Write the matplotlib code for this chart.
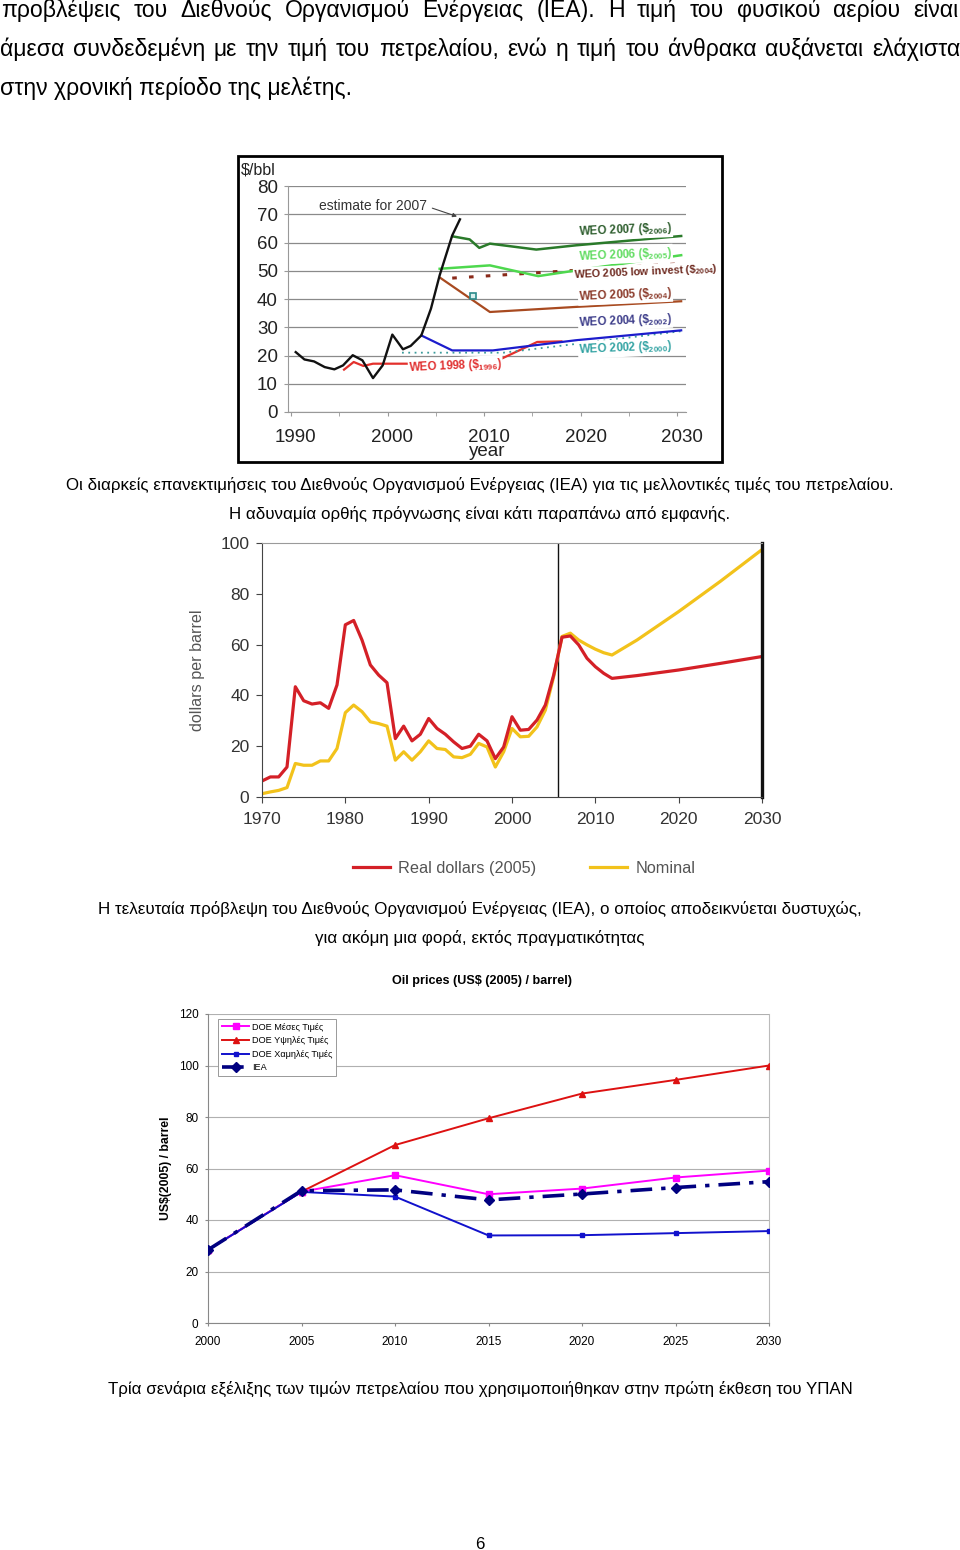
import matplotlib
matplotlib.use("Agg")
import matplotlib.pyplot as plt
from matplotlib import font_manager
from matplotlib.patches import Rectangle
from matplotlib.transforms import ScaledTranslation

W, H = 960, 1550

names = {f.name for f in font_manager.fontManager.ttflist}
NARROW = "Liberation Sans Narrow" if "Liberation Sans Narrow" in names else "Liberation Sans"

plt.rcParams["font.family"] = ["Liberation Sans", "DejaVu Sans"]
plt.rcParams["mathtext.fontset"] = "custom"
plt.rcParams["mathtext.default"] = "regular"

## DATA

PARA = [
    "προβλέψεις του Διεθνούς Οργανισμού Ενέργειας (ΙΕΑ). Η τιμή του φυσικού αερίου είναι",
    "άμεσα συνδεδεμένη με την τιμή του πετρελαίου, ενώ η τιμή του άνθρακα αυξάνεται ελάχιστα",
    "στην χρονική περίοδο της μελέτης.",
]
CAPTION_1 = [
    "Οι διαρκείς επανεκτιμήσεις του Διεθνούς Οργανισμού Ενέργειας (ΙΕΑ) για τις μελλοντικές τιμές του πετρελαίου.",
    "Η αδυναμία ορθής πρόγνωσης είναι κάτι παραπάνω από εμφανής.",
]
CAPTION_2 = [
    "Η τελευταία πρόβλεψη του Διεθνούς Οργανισμού Ενέργειας (ΙΕΑ), ο οποίος αποδεικνύεται δυστυχώς,",
    "για ακόμη μια φορά, εκτός πραγματικότητας",
]
CAPTION_3 = "Τρία σενάρια εξέλιξης των τιμών πετρελαίου που χρησιμοποιήθηκαν στην πρώτη έκθεση του ΥΠΑΝ"
PAGE_NO = "6"

# chart 1: WEO forecasts ($/bbl)
hist_years = [1990.5, 1991.4, 1992.4, 1993.5, 1994.5, 1995.4, 1996.4, 1997.4, 1998.5,
              1999.5, 2000.5, 2001.6, 2002.4, 2003.5, 2004.5, 2005.4, 2006.7, 2007.5]
hist_price = [21.2, 18.6, 17.9, 15.9, 15.1, 16.5, 20.1, 18.3, 12.0,
              16.5, 27.4, 22.2, 23.4, 27.1, 36.6, 48.4, 62.5, 68.2]
weo1998_years = [1995.5, 1996.5, 1997.5, 1998.5, 2010.7, 2015.5, 2018.0]
weo1998_price = [15.0, 17.7, 16.3, 17.1, 17.1, 24.8, 25.0]
weo2002_years = [2001.5, 2012.0, 2020.0, 2030.4]
weo2002_price = [21.0, 21.0, 24.3, 28.6]
weo2004_years = [2003.5, 2006.7, 2010.9, 2019.5, 2030.4]
weo2004_price = [27.1, 21.8, 21.8, 25.4, 28.9]
weo2005_years = [2005.5, 2010.6, 2019.5, 2030.4]
weo2005_price = [47.4, 35.4, 37.2, 39.2]
weo2005low_years = [2006.7, 2030.4]
weo2005low_price = [47.4, 52.5]
weo2006_years = [2005.4, 2010.6, 2015.6, 2019.5, 2030.4]
weo2006_price = [50.7, 51.9, 48.1, 50.1, 55.5]
weo2007_years = [2006.7, 2008.5, 2009.5, 2010.6, 2015.4, 2019.5, 2030.4]
weo2007_price = [62.2, 61.1, 58.1, 59.6, 57.5, 59.0, 62.3]
marker_point = (2008.9, 41.0)

# chart 2: real vs nominal (dollars per barrel)
c2_years = list(range(1970, 2013)) + [2015, 2020, 2025, 2030]
c2_real = [6.3, 7.9, 7.9, 11.8, 43.4, 37.9, 36.6, 37.1, 34.9, 44.1,
           67.8, 69.5, 61.8, 52.0, 48.0, 45.0, 23.0, 27.9, 22.1, 24.7,
           30.9, 27.0, 24.7, 21.7, 19.1, 20.0, 24.7, 22.1, 15.1, 19.7,
           31.6, 26.3, 26.6, 30.3, 36.2, 48.0, 62.9, 63.4, 59.9, 54.6,
           51.3, 48.7, 46.7, 47.8, 50.0, 52.6, 55.3]
c2_nominal = [1.3, 2.0, 2.6, 3.7, 13.2, 12.5, 12.5, 14.2, 14.2, 19.1,
              33.2, 36.2, 33.6, 29.6, 28.9, 27.9, 14.5, 17.8, 14.5, 17.8,
              22.1, 19.1, 18.7, 15.8, 15.5, 16.8, 21.1, 19.7, 11.8, 17.8,
              27.0, 23.7, 23.9, 27.6, 34.2, 47.4, 63.2, 64.5, 61.8, 59.9,
              58.2, 56.8, 55.9, 61.8, 73.0, 84.9, 97.4]
c2_divider = 2005.5

# chart 3: DOE / IEA scenarios
c3_years = [2000, 2005, 2010, 2015, 2020, 2025, 2030]
doe_mid = [28.4, 51.0, 57.4, 50.0, 52.2, 56.5, 59.2]
doe_high = [28.4, 51.0, 69.1, 79.5, 89.1, 94.4, 100.0]
doe_low = [28.4, 50.9, 49.1, 34.0, 34.1, 34.9, 35.7]
iea = [28.4, 51.4, 51.7, 47.8, 50.1, 52.6, 54.9]
c3_labels = ["DOE Μέσες Τιμές", "DOE Υψηλές Τιμές", "DOE Χαμηλές Τιμές", "IEA"]

## HELPERS

fig = plt.figure(figsize=(W / 100, H / 100), dpi=100)
renderer = fig.canvas.get_renderer()

def fx(x):
    return x / W

def fy(y):
    return 1 - y / H

def axes_px(left, top, right, bottom):
    return fig.add_axes([fx(left), fy(bottom), (right - left) / W, (bottom - top) / H])

def fit_size(s, width, family, weight="normal"):
    t = fig.text(0, 0, s, fontsize=10, family=family, weight=weight)
    w = t.get_window_extent(renderer).width
    t.remove()
    return 10 * width / w

def justify(line, y, x0, x1, size):
    words = line.split()
    texts = [fig.text(0, fy(y), w, fontsize=size, va="baseline") for w in words]
    widths = [t.get_window_extent(renderer).width for t in texts]
    gap = (x1 - x0 - sum(widths)) / (len(words) - 1)
    x = x0
    for t, w in zip(texts, widths):
        t.set_x(fx(x))
        x += w + gap

## TEXT

psize = fit_size(PARA[2], 354, ["Liberation Sans", "DejaVu Sans"])
justify(PARA[0], 17, 1, 958, psize)
justify(PARA[1], 56, 0, 960, psize)
fig.text(0, fy(95), PARA[2], fontsize=psize, va="baseline")

csize = fit_size(CAPTION_1[0], 826, NARROW)
fig.text(fx(480), fy(490), CAPTION_1[0], fontsize=csize, family=NARROW, ha="center", va="baseline")
fig.text(fx(480), fy(519), CAPTION_1[1], fontsize=csize, family=NARROW, ha="center", va="baseline")

csize2 = fit_size(CAPTION_2[0], 761, NARROW)
fig.text(fx(480), fy(914), CAPTION_2[0], fontsize=csize2, family=NARROW, ha="center", va="baseline")
fig.text(fx(480), fy(943), CAPTION_2[1], fontsize=csize2, family=NARROW, ha="center", va="baseline")

csize3 = fit_size(CAPTION_3, 745, NARROW)
fig.text(fx(480), fy(1394), CAPTION_3, fontsize=csize3, family=NARROW, ha="center", va="baseline")
fig.text(fx(480), fy(1549), PAGE_NO, fontsize=csize3, family=NARROW, ha="center", va="baseline")

## CHART 1

fig.add_artist(Rectangle((fx(238), fy(462)), (722 - 238) / W, (462 - 156) / H,
                         transform=fig.transFigure, fill=False, lw=2, ec="black", zorder=10))
ax1 = axes_px(288, 186, 686, 412)
ax1.set_xlim(1989.7, 2030.9)
ax1.set_ylim(0, 80)
for s in ["top", "right"]:
    ax1.spines[s].set_visible(False)
for s in ["left", "bottom"]:
    ax1.spines[s].set_color("#999999")
ax1.set_yticks(range(0, 81, 10))
ax1.set_xticks(range(1990, 2031, 10))
ax1.set_xticks(range(1995, 2031, 10), minor=True)
ax1.yaxis.grid(True, color="#8a8a8a", lw=0.9)
ax1.tick_params(axis="y", length=3, color="#999999", pad=4.3, labelsize=13.5, labelcolor="#222222")
ax1.tick_params(axis="x", which="both", length=3, color="#999999", pad=9, labelsize=13.5, labelcolor="#222222")
for lbl in ax1.get_xticklabels():
    lbl.set_transform(lbl.get_transform() + ScaledTranslation(5 / 100, 0, fig.dpi_scale_trans))

ax1.plot(weo1998_years, weo1998_price, color="#e3302c", lw=1.6)
ax1.plot(weo2002_years, weo2002_price, color="#3a9a9a", lw=1.3, ls=(0, (1, 2.5)))
ax1.plot(weo2004_years, weo2004_price, color="#1c1ccc", lw=1.6)
ax1.plot(weo2005_years, weo2005_price, color="#a84a20", lw=1.6)
ax1.plot(weo2005low_years, weo2005low_price, color="#8a2a1a", lw=2.2, ls=(0, (1.5, 4)))
ax1.plot(weo2006_years, weo2006_price, color="#4ed84e", lw=1.8)
ax1.plot(weo2007_years, weo2007_price, color="#2a7a2a", lw=1.8)
ax1.plot(hist_years, hist_price, color="#111111", lw=1.7)
ax1.plot(*marker_point, marker="s", ms=5, mfc="#d8f0ee", mec="#2a8a8a", mew=1.2)

labels1 = [
    (r"WEO 2007 ($\$_{2006}$)", 2019.8, 63.6, "#2e5e2e", 8.3),
    (r"WEO 2006 ($\$_{2005}$)", 2019.8, 55.0, "#62dc62", 8.3),
    (r"WEO 2005 low invest ($\$_{2004}$)", 2019.3, 48.4, "#6e2a20", 7.8),
    (r"WEO 2005 ($\$_{2004}$)", 2019.8, 40.7, "#8b3a2a", 8.3),
    (r"WEO 2004 ($\$_{2002}$)", 2019.8, 31.5, "#3d3d8a", 8.3),
    (r"WEO 2002 ($\$_{2000}$)", 2019.8, 21.9, "#33a3a3", 8.3),
    (r"WEO 1998 ($\$_{1996}$)", 2002.2, 15.6, "#e03030", 8.3),
]
for s, x, y, c, size in labels1:
    ax1.text(x, y, s, color=c, fontsize=size, weight="bold", va="center", ha="left",
             rotation=2.5, rotation_mode="anchor", zorder=5, clip_on=False,
             bbox=dict(fc="white", ec="none", pad=0.6))

ax1.annotate("estimate for 2007", xy=(2007.2, 69.2), xytext=(1992.9, 72.8),
             fontsize=10, color="#333333", va="center", ha="left",
             arrowprops=dict(arrowstyle="-|>", color="#444444", lw=0.8, mutation_scale=6,
                             relpos=(1, 0.5), shrinkA=2, shrinkB=0))
fig.text(fx(241), fy(174), "$/bbl", fontsize=11.5, color="#222222", va="baseline")
fig.text(fx(487), fy(456), "year", fontsize=13.5, color="#222222", ha="center", va="baseline")

## CHART 2

ax2 = axes_px(262, 543, 762, 797)
ax2.set_xlim(1970, 2030)
ax2.set_ylim(0, 100)
ax2.spines["left"].set_color("#444444")
ax2.spines["bottom"].set_color("#444444")
ax2.spines["top"].set_color("#9a9a9a")
ax2.spines["right"].set_color("#111111")
ax2.spines["right"].set_linewidth(2.4)
ax2.set_xticks(range(1970, 2031, 10))
ax2.set_yticks(range(0, 101, 20))
ax2.tick_params(length=4, color="#444444", labelsize=12.5, labelcolor="#333333")
ax2.tick_params(axis="y", pad=5)
ax2.tick_params(axis="x", pad=7)
ax2.axvline(c2_divider, color="#111111", lw=1)
nominal_line, = ax2.plot(c2_years, c2_nominal, color="#f2c21b", lw=2.3)
real_line, = ax2.plot(c2_years, c2_real, color="#d42027", lw=2.3)
ax2.set_ylabel("dollars per barrel", fontsize=11.6, color="#555555")
ax2.yaxis.set_label_coords((205 - 262) / 500, 0.5)
fig.legend([real_line, nominal_line], ["Real dollars (2005)", "Nominal"], loc="center",
           bbox_to_anchor=(fx(524), fy(868)), ncol=2, frameon=False, fontsize=11.7,
           labelcolor="#555555", handlelength=2.3, handletextpad=0.5, columnspacing=3.3)

## CHART 3

ax3 = axes_px(208, 1014, 769, 1323)
ax3.set_xlim(2000, 2030)
ax3.set_ylim(0, 120)
ax3.spines["top"].set_visible(False)
ax3.spines["left"].set_color("#888888")
ax3.spines["bottom"].set_color("#888888")
ax3.spines["right"].set_color("#bbbbbb")
ax3.spines["right"].set_linewidth(0.8)
ax3.set_xticks(c3_years)
ax3.set_yticks(range(0, 121, 20))
ax3.yaxis.grid(True, color="#b0b0b0", lw=0.8)
ax3.set_axisbelow(True)
ax3.tick_params(length=2.5, color="#888888", labelsize=8.5)
ax3.tick_params(axis="y", pad=4.3)
ax3.tick_params(axis="x", pad=7)

ax3.plot(c3_years, doe_high, color="#dd1111", lw=1.4, marker="^", ms=4.5, label=c3_labels[1], zorder=3)
ax3.plot(c3_years, doe_mid, color="#ff00ff", lw=1.4, marker="s", ms=5, label=c3_labels[0], zorder=4)
ax3.plot(c3_years, doe_low, color="#1111cc", lw=1.4, marker="s", ms=3.5, label=c3_labels[2], zorder=4)
ax3.plot(c3_years, iea, color="#000080", lw=2.6, ls=(0, (6, 2.5, 1.2, 2.5)), marker="D", ms=5.5,
         label=c3_labels[3], zorder=5)
h, l = ax3.get_legend_handles_labels()
order = [1, 0, 2, 3]
leg = ax3.legend([h[i] for i in order], [l[i] for i in order], loc="upper left",
                 bbox_to_anchor=(0.018, 0.984), fontsize=6.6, fancybox=False, framealpha=1,
                 edgecolor="#999999", handlelength=3, handletextpad=0.3, borderpad=0.4,
                 labelspacing=0.5, borderaxespad=0)
leg.get_frame().set_linewidth(0.7)

tsize = fit_size("Oil prices (US$ (2005) / barrel)", 181, ["Liberation Sans"], "bold")
fig.text(fx(482), fy(984), "Oil prices (US$ (2005) / barrel)", fontsize=tsize, weight="bold",
         ha="center", va="baseline")
fig.text(fx(166), fy(1168), "US$(2005) / barrel", fontsize=8.8, weight="bold", rotation=90,
         ha="center", va="center")

fig.savefig("out.png", dpi=100)
